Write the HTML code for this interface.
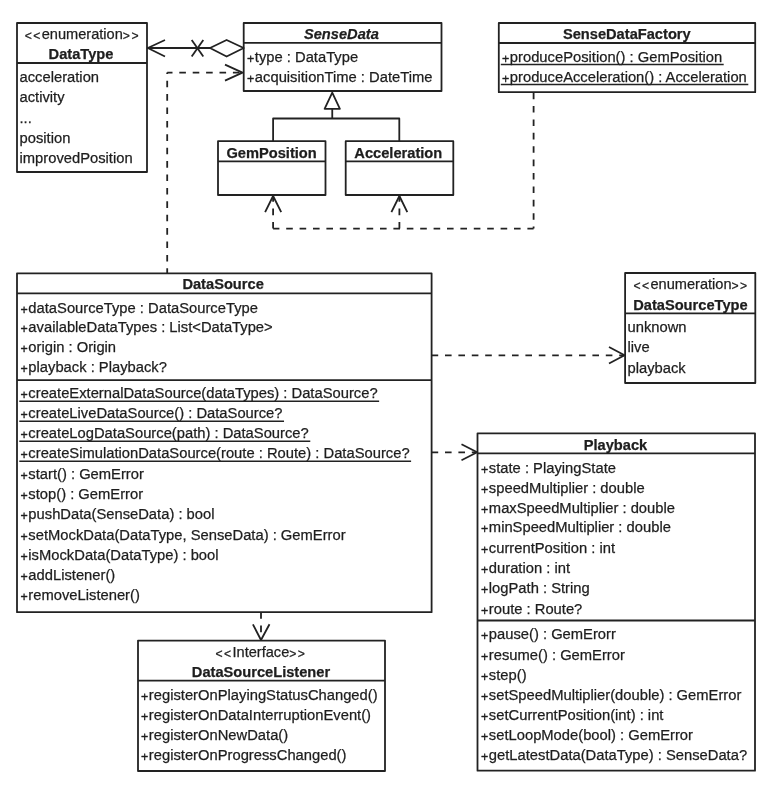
<!DOCTYPE html>
<html><head><meta charset="utf-8"><style>
html,body{margin:0;padding:0;background:#fff;width:781px;height:800px;overflow:hidden}
svg{display:block;filter:grayscale(1)}
text{font-family:"Liberation Sans",sans-serif;font-size:14.75px;fill:#1e1e1e;stroke:#1e1e1e;stroke-width:0.25px}
text.b{font-weight:bold;font-size:14.65px}
text.bi{font-weight:bold;font-style:italic;font-size:14.65px}
text.s{font-size:14.6px}
tspan.lt{font-size:12.2px;letter-spacing:1.4px;baseline-shift:-0.9px}
tspan.p{font-size:12.4px;font-weight:normal;stroke-width:0.35px;baseline-shift:-0.8px}
</style></head><body>
<svg width="781" height="800" viewBox="0 0 781 800">
<g stroke="#222" stroke-width="1.8" fill="none" stroke-linejoin="round" stroke-linecap="butt">
<rect x="17" y="23" width="130" height="149" fill="#fff"/>
<line x1="17" y1="63" x2="147" y2="63" stroke-width="1.8"/>
<text x="82.3" y="39.2" class="s" text-anchor="middle"><tspan class="lt">&lt;&lt;</tspan>enumeration<tspan class="lt">&gt;&gt;</tspan></text>
<text x="81" y="58.8" class="b" text-anchor="middle">DataType</text>
<text x="19.5" y="81.8" class="r">acceleration</text>
<text x="19.5" y="102.19999999999999" class="r">activity</text>
<text x="19.5" y="122.6" class="r">...</text>
<text x="19.5" y="143.0" class="r">position</text>
<text x="19.5" y="163.39999999999998" class="r">improvedPosition</text>
<rect x="243.7" y="23" width="197.8" height="68" fill="#fff"/>
<line x1="243.7" y1="42.8" x2="441.5" y2="42.8" stroke-width="1.8"/>
<text x="341.4" y="39" class="bi" text-anchor="middle">SenseData</text>
<text x="247" y="61.8" class="r"><tspan class="p">+</tspan><tspan dx="0.6">type : DataType</tspan></text>
<text x="247" y="81.6" class="r"><tspan class="p">+</tspan><tspan dx="0.6">acquisitionTime : DateTime</tspan></text>
<rect x="498.8" y="23" width="256.4" height="69.2" fill="#fff"/>
<line x1="498.8" y1="43" x2="755.2" y2="43" stroke-width="1.8"/>
<text x="626.8" y="39.3" class="b" text-anchor="middle">SenseDataFactory</text>
<text x="502" y="61.8" class="r"><tspan class="p">+</tspan><tspan dx="0.6">producePosition() : GemPosition</tspan></text>
<line x1="500.8" y1="64.6" x2="723.6937255859375" y2="64.6" stroke-width="1.5"/>
<text x="502" y="81.6" class="r"><tspan class="p">+</tspan><tspan dx="0.6">produceAcceleration() : Acceleration</tspan></text>
<line x1="500.8" y1="84.39999999999999" x2="748.3031005859375" y2="84.39999999999999" stroke-width="1.5"/>
<rect x="218" y="141.2" width="107.5" height="53.8" fill="#fff"/>
<line x1="218" y1="161.4" x2="325.5" y2="161.4" stroke-width="1.8"/>
<text x="271.6" y="157.5" class="b" text-anchor="middle">GemPosition</text>
<rect x="345.7" y="141.2" width="107.6" height="53.8" fill="#fff"/>
<line x1="345.7" y1="161.4" x2="453.3" y2="161.4" stroke-width="1.8"/>
<text x="398.3" y="157.5" class="b" text-anchor="middle">Acceleration</text>
<rect x="17" y="273.3" width="414.6" height="338.9" fill="#fff"/>
<line x1="17" y1="293.3" x2="431.6" y2="293.3" stroke-width="1.8"/>
<line x1="17" y1="380.2" x2="431.6" y2="380.2" stroke-width="1.8"/>
<text x="223.1" y="288.6" class="b" text-anchor="middle">DataSource</text>
<text x="20.5" y="312.5" class="r"><tspan class="p">+</tspan><tspan dx="0.6">dataSourceType : DataSourceType</tspan></text>
<text x="20.5" y="332.4" class="r"><tspan class="p">+</tspan><tspan dx="0.6">availableDataTypes : List&lt;DataType&gt;</tspan></text>
<text x="20.5" y="352.3" class="r"><tspan class="p">+</tspan><tspan dx="0.6">origin : Origin</tspan></text>
<text x="20.5" y="372.2" class="r"><tspan class="p">+</tspan><tspan dx="0.6">playback : Playback?</tspan></text>
<text x="20.5" y="398" class="r"><tspan class="p">+</tspan><tspan dx="0.6">createExternalDataSource(dataTypes) : DataSource?</tspan></text>
<line x1="19.3" y1="401.3" x2="379.1312561035156" y2="401.3" stroke-width="1.5"/>
<text x="20.5" y="418" class="r"><tspan class="p">+</tspan><tspan dx="0.6">createLiveDataSource() : DataSource?</tspan></text>
<line x1="19.3" y1="421.3" x2="284.0218811035156" y2="421.3" stroke-width="1.5"/>
<text x="20.5" y="438" class="r"><tspan class="p">+</tspan><tspan dx="0.6">createLogDataSource(path) : DataSource?</tspan></text>
<line x1="19.3" y1="441.3" x2="310.2718811035156" y2="441.3" stroke-width="1.5"/>
<text x="20.5" y="458" class="r"><tspan class="p">+</tspan><tspan dx="0.6">createSimulationDataSource(route : Route) : DataSource?</tspan></text>
<line x1="19.3" y1="461.3" x2="411.1000061035156" y2="461.3" stroke-width="1.5"/>
<text x="20.5" y="479" class="r"><tspan class="p">+</tspan><tspan dx="0.6">start() : GemError</tspan></text>
<text x="20.5" y="499" class="r"><tspan class="p">+</tspan><tspan dx="0.6">stop() : GemError</tspan></text>
<text x="20.5" y="519" class="r"><tspan class="p">+</tspan><tspan dx="0.6">pushData(SenseData) : bool</tspan></text>
<text x="20.5" y="540" class="r"><tspan class="p">+</tspan><tspan dx="0.6">setMockData(DataType, SenseData) : GemError</tspan></text>
<text x="20.5" y="560" class="r"><tspan class="p">+</tspan><tspan dx="0.6">isMockData(DataType) : bool</tspan></text>
<text x="20.5" y="580" class="r"><tspan class="p">+</tspan><tspan dx="0.6">addListener()</tspan></text>
<text x="20.5" y="600" class="r"><tspan class="p">+</tspan><tspan dx="0.6">removeListener()</tspan></text>
<rect x="625.1" y="273" width="130.2" height="110" fill="#fff"/>
<line x1="625.1" y1="313.3" x2="755.3" y2="313.3" stroke-width="1.8"/>
<text x="691" y="289" class="s" text-anchor="middle"><tspan class="lt">&lt;&lt;</tspan>enumeration<tspan class="lt">&gt;&gt;</tspan></text>
<text x="690.4" y="309.6" class="b" text-anchor="middle">DataSourceType</text>
<text x="627.5" y="332" class="r">unknown</text>
<text x="627.5" y="352" class="r">live</text>
<text x="627.5" y="373" class="r">playback</text>
<rect x="477.5" y="433.3" width="277.5" height="337.4" fill="#fff"/>
<line x1="477.5" y1="453.3" x2="755" y2="453.3" stroke-width="1.8"/>
<line x1="477.5" y1="620.5" x2="755" y2="620.5" stroke-width="1.8"/>
<text x="615.5" y="449.5" class="b" text-anchor="middle">Playback</text>
<text x="481" y="473" class="r"><tspan class="p">+</tspan><tspan dx="0.6">state : PlayingState</tspan></text>
<text x="481" y="493" class="r"><tspan class="p">+</tspan><tspan dx="0.6">speedMultiplier : double</tspan></text>
<text x="481" y="513" class="r"><tspan class="p">+</tspan><tspan dx="0.6">maxSpeedMultiplier : double</tspan></text>
<text x="481" y="532" class="r"><tspan class="p">+</tspan><tspan dx="0.6">minSpeedMultiplier : double</tspan></text>
<text x="481" y="553" class="r"><tspan class="p">+</tspan><tspan dx="0.6">currentPosition : int</tspan></text>
<text x="481" y="573" class="r"><tspan class="p">+</tspan><tspan dx="0.6">duration : int</tspan></text>
<text x="481" y="593" class="r"><tspan class="p">+</tspan><tspan dx="0.6">logPath : String</tspan></text>
<text x="481" y="614" class="r"><tspan class="p">+</tspan><tspan dx="0.6">route : Route?</tspan></text>
<text x="481" y="639" class="r"><tspan class="p">+</tspan><tspan dx="0.6">pause() : GemErorr</tspan></text>
<text x="481" y="660" class="r"><tspan class="p">+</tspan><tspan dx="0.6">resume() : GemError</tspan></text>
<text x="481" y="680" class="r"><tspan class="p">+</tspan><tspan dx="0.6">step()</tspan></text>
<text x="481" y="700" class="r"><tspan class="p">+</tspan><tspan dx="0.6">setSpeedMultiplier(double) : GemError</tspan></text>
<text x="481" y="720" class="r"><tspan class="p">+</tspan><tspan dx="0.6">setCurrentPosition(int) : int</tspan></text>
<text x="481" y="740" class="r"><tspan class="p">+</tspan><tspan dx="0.6">setLoopMode(bool) : GemError</tspan></text>
<text x="481" y="760" class="r"><tspan class="p">+</tspan><tspan dx="0.6">getLatestData(DataType) : SenseData?</tspan></text>
<rect x="138" y="640.6" width="247" height="130.4" fill="#fff"/>
<line x1="138" y1="680.7" x2="385" y2="680.7" stroke-width="1.8"/>
<text x="260.9" y="657" class="s" text-anchor="middle"><tspan class="lt">&lt;&lt;</tspan>Interface<tspan class="lt">&gt;&gt;</tspan></text>
<text x="261" y="676.5" class="b" text-anchor="middle">DataSourceListener</text>
<text x="141" y="700.2" class="r"><tspan class="p">+</tspan><tspan dx="0.6">registerOnPlayingStatusChanged()</tspan></text>
<text x="141" y="720.1" class="r"><tspan class="p">+</tspan><tspan dx="0.6">registerOnDataInterruptionEvent()</tspan></text>
<text x="141" y="740.0" class="r"><tspan class="p">+</tspan><tspan dx="0.6">registerOnNewData()</tspan></text>
<text x="141" y="759.9000000000001" class="r"><tspan class="p">+</tspan><tspan dx="0.6">registerOnProgressChanged()</tspan></text>
<line x1="147" y1="48" x2="210" y2="48" stroke-width="1.8"/>
<polygon points="210,48 226.6,40 243.7,48 226.6,56.5" fill="#fff"/>
<line x1="191.7" y1="40" x2="203.3" y2="56.6" stroke-width="1.8"/>
<line x1="203.3" y1="40" x2="191.7" y2="56.6" stroke-width="1.8"/>
<polyline points="165,40 147.8,48 165,56.5" fill="none"/>
<line x1="167.2" y1="72.6" x2="167.2" y2="273" stroke-dasharray="6.6 6.8" stroke-dashoffset="5.3"/>
<line x1="167.2" y1="72.6" x2="241" y2="72.6" stroke-dasharray="6.6 6.8" stroke-dashoffset="1.3"/>
<polyline points="225,64.6 242.5,72.6 225,80.6" fill="none"/>
<polygon points="332.25,92.6 324.6,108.8 339.9,108.8" fill="#fff"/>
<line x1="332.25" y1="108.8" x2="332.25" y2="118.5" stroke-width="1.8"/>
<polyline points="273.1,141.5 273.1,118.5 399.3,118.5 399.3,141.5" fill="none"/>
<line x1="533.6" y1="92.6" x2="533.6" y2="228.6" stroke-dasharray="6.6 6.8" stroke-dashoffset="0"/>
<line x1="273.1" y1="228.6" x2="533.6" y2="228.6" stroke-dasharray="6.6 6.8" stroke-dashoffset="0.3"/>
<line x1="273.1" y1="228.6" x2="273.1" y2="196.5" stroke-dasharray="6.6 6.8" stroke-dashoffset="0"/>
<line x1="399.4" y1="228.6" x2="399.4" y2="196.5" stroke-dasharray="6.6 6.8" stroke-dashoffset="0"/>
<polyline points="265.1,212.2 273.1,196 281.2,212.2" fill="none"/>
<polyline points="391.4,212.2 399.4,196 407.3,212.2" fill="none"/>
<line x1="431.6" y1="355.3" x2="624" y2="355.3" stroke-dasharray="6.6 6.8" stroke-dashoffset="0"/>
<polyline points="609,347 624.6,355.3 609,363.5" fill="none"/>
<line x1="431.6" y1="452.3" x2="476" y2="452.3" stroke-dasharray="6.6 6.8" stroke-dashoffset="0"/>
<polyline points="461.5,444.2 477.2,452.3 461.5,460.2" fill="none"/>
<line x1="261" y1="612.2" x2="261" y2="639" stroke-dasharray="6.6 6.8" stroke-dashoffset="0"/>
<polyline points="252.9,624.3 261,640 269.5,624.3" fill="none"/>
</g>
</svg>
</body></html>
